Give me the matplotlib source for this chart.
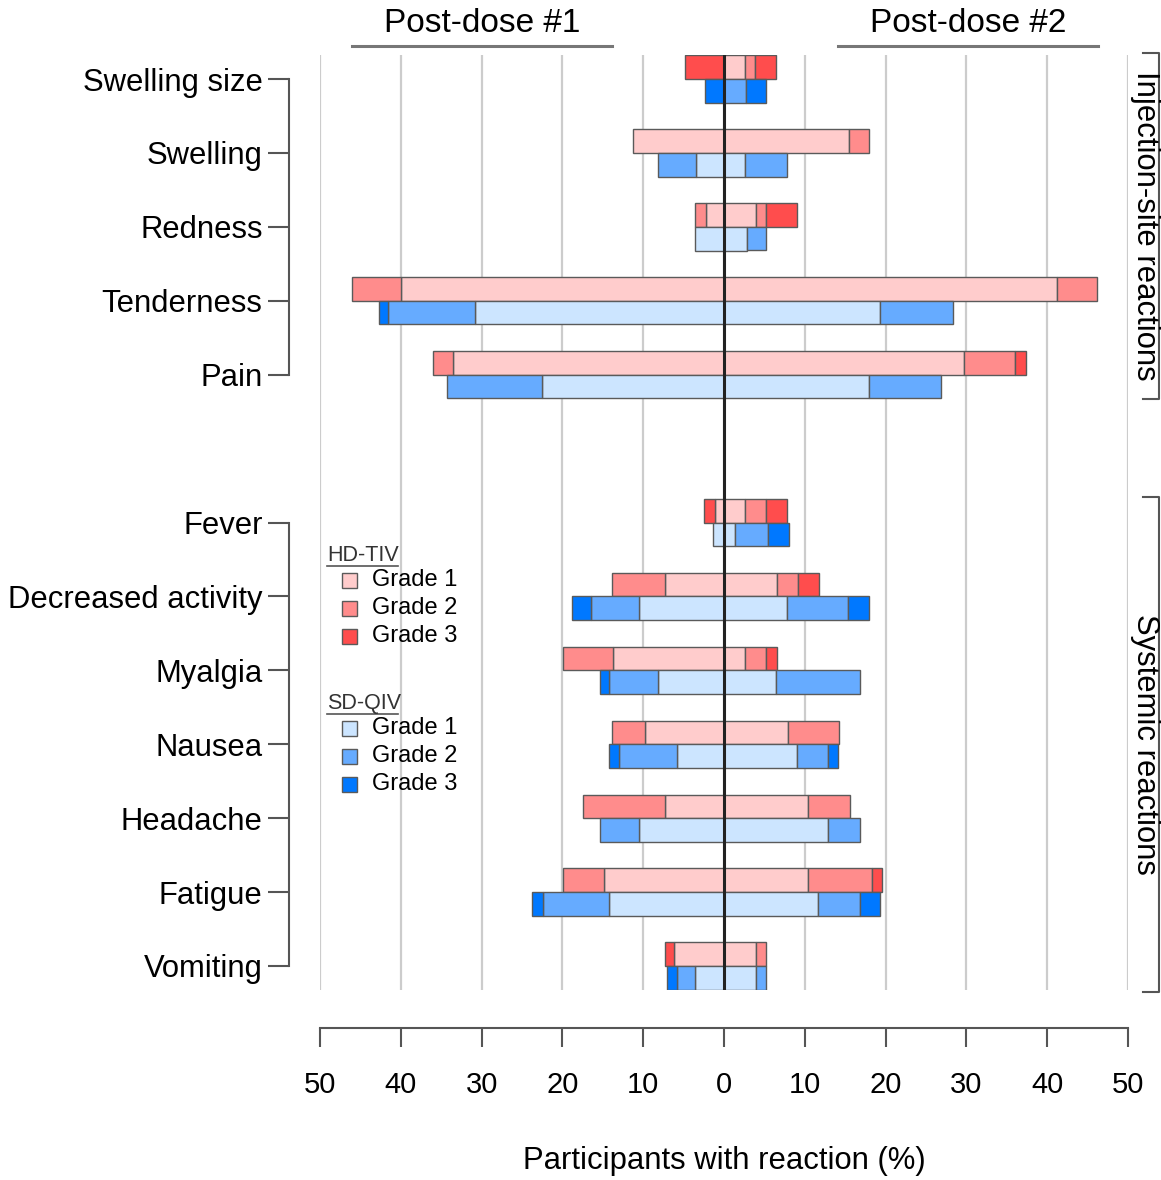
import numpy as np
import matplotlib
matplotlib.use("Agg")
import matplotlib.pyplot as plt
from matplotlib.patches import Rectangle
from matplotlib.lines import Line2D

plt.rcParams['font.family'] = ['Liberation Sans', 'DejaVu Sans']

# data (percent of participants), grades 1/2/3
categories = ["Swelling size", "Swelling", "Redness", "Tenderness", "Pain",
              "Fever", "Decreased activity", "Myalgia", "Nausea", "Headache",
              "Fatigue", "Vomiting"]
ypos = [0, 1, 2, 3, 4, 6, 7, 8, 9, 10, 11, 12]

# HD-TIV, post-dose #1
hd_d1_g1 = [0.0, 11.3, 2.2, 40.0, 33.5, 1.1, 7.3, 13.7, 9.8, 7.3, 14.8, 6.2]
hd_d1_g2 = [0.0, 0.0, 1.4, 6.0, 2.5, 0.0, 6.5, 6.2, 4.0, 10.1, 5.1, 0.0]
hd_d1_g3 = [4.8, 0.0, 0.0, 0.0, 0.0, 1.4, 0.0, 0.0, 0.0, 0.0, 0.0, 1.1]
# HD-TIV, post-dose #2
hd_d2_g1 = [2.6, 15.5, 4.0, 41.2, 29.7, 2.6, 6.6, 2.6, 7.9, 10.4, 10.4, 4.0]
hd_d2_g2 = [1.2, 2.4, 1.2, 5.0, 6.3, 2.6, 2.6, 2.6, 6.3, 5.2, 7.9, 1.2]
hd_d2_g3 = [2.6, 0.0, 3.8, 0.0, 1.4, 2.6, 2.6, 1.3, 0.0, 0.0, 1.3, 0.0]
# SD-QIV, post-dose #1
sd_d1_g1 = [0.0, 3.5, 3.6, 30.8, 22.5, 1.3, 10.5, 8.2, 5.8, 10.5, 14.2, 3.6]
sd_d1_g2 = [0.0, 4.7, 0.0, 10.8, 11.8, 0.0, 6.0, 6.0, 7.2, 4.8, 8.2, 2.2]
sd_d1_g3 = [2.4, 0.0, 0.0, 1.1, 0.0, 0.0, 2.3, 1.1, 1.2, 0.0, 1.4, 1.3]
# SD-QIV, post-dose #2
sd_d2_g1 = [0.0, 2.6, 2.8, 19.3, 17.9, 1.4, 7.8, 6.4, 9.0, 12.9, 11.6, 4.0]
sd_d2_g2 = [2.7, 5.2, 2.4, 9.0, 9.0, 4.1, 7.6, 10.4, 3.9, 3.9, 5.2, 1.2]
sd_d2_g3 = [2.5, 0.0, 0.0, 0.0, 0.0, 2.6, 2.5, 0.0, 1.2, 0.0, 2.5, 0.0]

xticks = [-50, -40, -30, -20, -10, 0, 10, 20, 30, 40, 50]

hd_colors = ['#FFCCCC', '#FF8C8C', '#FF4D4D']
sd_colors = ['#CCE5FF', '#66ABFF', '#0078FF']
edge = '#5A5A5A'
W, H = 1161, 1180

fig = plt.figure(figsize=(W / 100, H / 100), dpi=100)
ax = fig.add_axes([320 / W, 190 / H, 808 / W, 935 / H])
ax.set_xlim(-50, 50)
ax.set_ylim(12.325, -0.325)

for x in xticks:
    ax.axvline(x, color='#CCCCCC', lw=1.6, zorder=0)

bh = 0.32
y = np.array(ypos, dtype=float)


def stack(vals, sign, offset, colors):
    left = np.zeros(len(y))
    for g, c in zip(vals, colors):
        g = np.array(g)
        m = g > 0
        ax.barh(y[m] + offset, sign * g[m], left=sign * left[m], height=bh,
                color=c, edgecolor=edge, linewidth=1.0, zorder=2)
        left += g


stack([hd_d1_g1, hd_d1_g2, hd_d1_g3], -1, -bh / 2, hd_colors)
stack([hd_d2_g1, hd_d2_g2, hd_d2_g3], 1, -bh / 2, hd_colors)
stack([sd_d1_g1, sd_d1_g2, sd_d1_g3], -1, bh / 2, sd_colors)
stack([sd_d2_g1, sd_d2_g2, sd_d2_g3], 1, bh / 2, sd_colors)

ax.axvline(0, color='#222222', lw=2.2, zorder=3)

# axes styling
for s in ['top', 'right']:
    ax.spines[s].set_visible(False)
ax.spines['left'].set_position(('axes', -0.0384))
ax.spines['left'].set_visible(False)
ax.spines['bottom'].set_position(('outward', 27))
ax.spines['bottom'].set_color('#555555')
ax.spines['bottom'].set_linewidth(1.5)

ax.set_yticks(ypos)
ax.set_yticklabels(categories, fontsize=22.3)
ax.tick_params(axis='y', length=15, width=1.5, color='#555555', pad=4)
ax.set_xticks(xticks)
ax.set_xticklabels([str(abs(v)) for v in xticks], fontsize=21)
ax.tick_params(axis='x', length=14, width=1.5, color='#555555', pad=17)
ax.set_xlabel("Participants with reaction (%)", fontsize=22.3, labelpad=34)

# left group brackets
yt = ax.get_yaxis_transform()
for a, b in [(0, 4), (6, 12)]:
    ax.plot([-0.0384, -0.0384], [a, b], transform=yt, color='#555555',
            lw=1.5, clip_on=False)

# right group brackets and labels
for a, b, lab in [(-0.352, 4.33, "Injection-site reactions"),
                  (5.655, 12.35, "Systemic reactions")]:
    ax.plot([1.0186, 1.0384, 1.0384, 1.0186], [a, a, b, b], transform=yt,
            color='#555555', lw=1.5, clip_on=False)
    ax.text(1.021, (a + b) / 2, lab, transform=yt, rotation=-90,
            ha='center', va='center', fontsize=22.3)

# top dose headers
xt = ax.get_xaxis_transform()
for x0, x1, lab in [(-46, -13.9, "Post-dose #1"), (14.1, 46.3, "Post-dose #2")]:
    ax.plot([x0, x1], [1.0096, 1.0096], transform=xt, color='#777777',
            lw=2.2, clip_on=False)
    ax.text((x0 + x1) / 2, 1.0335, lab, transform=xt, ha='center',
            va='center', fontsize=24)

# legend
def px(xp, yp):
    return xp / W, 1 - yp / H


for head, y0, colors in [("HD-TIV", 555, hd_colors), ("SD-QIV", 703, sd_colors)]:
    tx, ty = px(327, y0)
    fig.text(tx, ty, head, ha='left', va='center', fontsize=15.5,
             color='#333333')
    fig.add_artist(Line2D([327 / W, 398 / W], [1 - (y0 + 11) / H] * 2,
                          color='#555555', lw=1.2))
    for i, c in enumerate(colors):
        yc = y0 + 25 + 28 * i
        sx, sy = px(342, yc + 7.5)
        fig.add_artist(Rectangle((sx, sy), 15 / W, 15 / H, transform=fig.transFigure,
                                 facecolor=c, edgecolor=edge, lw=1.0))
        lx, ly = px(372, yc)
        fig.text(lx, ly, f"Grade {i + 1}", ha='left', va='center', fontsize=17)

fig.savefig("out.png", dpi=100)
